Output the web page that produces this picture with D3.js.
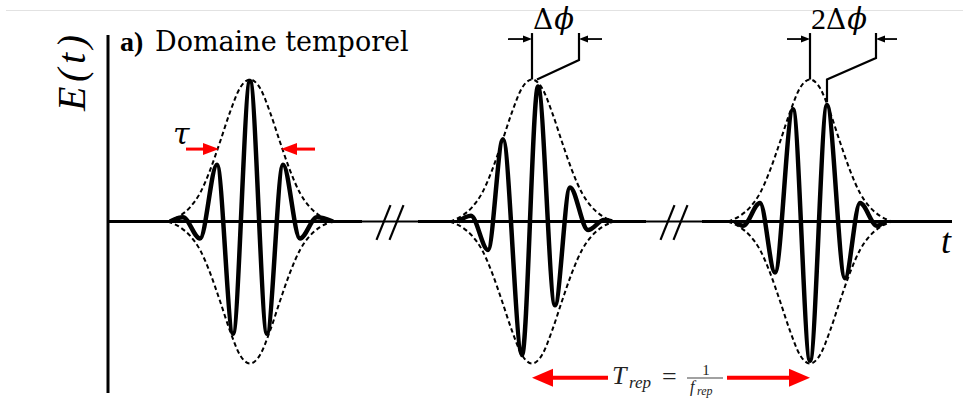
<!DOCTYPE html>
<html>
<head>
<meta charset="utf-8">
<script src="https://cdn.jsdelivr.net/npm/d3@7"></script>
<style>
  body { margin: 0; background: #fff; }
  svg { display: block; }
</style>
</head>
<body>
<svg id="chart" width="963" height="401"></svg>
<script>
// pulse centres along the time axis (arbitrary units)
const pulseCenters = [142, 424, 702];

// dashed envelope, same shape for every pulse (offset from centre, field)
const envOffsets = [-82, -70, -60, -50, -40, -30, -20, -10, 0, 10, 20, 30, 40, 50, 60, 70, 82];
const envValues  = [0, 0.04, 0.10, 0.20, 0.36, 0.56, 0.77, 0.94, 1, 0.94, 0.77, 0.56, 0.36, 0.20, 0.10, 0.04, 0];

// turning points of the carrier in each pulse
const carrierOffsets = [
  [-80, -67, -50, -33, -17, 0, 17, 33, 50, 67, 83],
  [-74, -61, -44, -29, -10, 6, 23, 38, 56, 72, 80],
  [-75, -67, -50, -35, -17, 0, 17, 35, 50, 67, 75]
];
const carrierValues = [
  [0, 0.03, -0.12, 0.40, -0.79, 0.99, -0.79, 0.40, -0.12, 0.03, 0],
  [0, 0.04, -0.20, 0.58, -0.94, 0.95, -0.59, 0.24, -0.06, 0.01, 0],
  [0, -0.03, 0.13, -0.36, 0.79, -0.98, 0.82, -0.40, 0.13, -0.03, 0]
];

// axis breaks "//"
const breakCenters = [282, 566];
const tMax = 844;

var svg = d3.select("#chart");

var x = d3.scaleLinear().domain([0, tMax]).range([108, 952]);
var y = d3.scaleLinear().domain([-1, 1]).range([363.5, 79.5]);

var line = d3.line().x(d => x(d[0])).y(d => y(d[1]));
var smooth = d3.line().x(d => x(d[0])).y(d => y(d[1])).curve(d3.curveMonotoneX);

// thin grey rule at the very top
svg.append("line")
  .attr("x1", 6).attr("x2", 963).attr("y1", 10.5).attr("y2", 10.5)
  .attr("stroke", "#e2e2e2").attr("stroke-width", 1);

// vertical axis
svg.append("line")
  .attr("x1", x(0)).attr("x2", x(0))
  .attr("y1", 35).attr("y2", 393)
  .attr("stroke", "#000").attr("stroke-width", 3);

// horizontal axis: thick pieces, thin through the breaks
var cuts = [0];
breakCenters.forEach(c => { cuts.push(c - 28); cuts.push(c + 28); });
cuts.push(tMax);
for (var i = 0; i < cuts.length; i += 2) {
  svg.append("path").attr("d", line([[cuts[i], 0], [cuts[i + 1], 0]]))
    .attr("stroke", "#000").attr("stroke-width", 3).attr("fill", "none");
}
breakCenters.forEach(c => {
  svg.append("path").attr("d", line([[c - 28, 0], [c + 28, 0]]))
    .attr("stroke", "#000").attr("stroke-width", 1.8).attr("fill", "none");
  [-6.5, 6.5].forEach(o => {
    svg.append("path").attr("d", line([[c + o - 7, -0.13], [c + o + 7, 0.115]]))
      .attr("stroke", "#000").attr("stroke-width", 2.2).attr("fill", "none");
  });
});

// envelopes
pulseCenters.forEach(pc => {
  [1, -1].forEach(s => {
    var pts = envOffsets.map((o, k) => [pc + o, s * envValues[k]]);
    svg.append("path").attr("d", smooth(pts))
      .attr("fill", "none").attr("stroke", "#000")
      .attr("stroke-width", 2).attr("stroke-dasharray", "4.5,3");
  });
});

// carriers
pulseCenters.forEach((pc, p) => {
  var pts = carrierOffsets[p].map((o, k) => [pc + o, carrierValues[p][k]]);
  svg.append("path").attr("d", smooth(pts))
    .attr("fill", "none").attr("stroke", "#000")
    .attr("stroke-width", 4.5).attr("stroke-linejoin", "round");
});

function head(tx, ty, dir, len, half) {
  return "M" + tx + "," + ty + "L" + (tx - dir * len) + "," + (ty - half) +
         "L" + (tx - dir * len) + "," + (ty + half) + "Z";
}
function arrow(t0, t1, v, color, w, len, half) {
  var x0 = x(t0), x1 = x(t1), yy = y(v), dir = x1 > x0 ? 1 : -1;
  svg.append("line").attr("x1", x0).attr("x2", x1 - dir * len * 0.6)
    .attr("y1", yy).attr("y2", yy).attr("stroke", color).attr("stroke-width", w);
  svg.append("path").attr("d", head(x1, yy, dir, len, half)).attr("fill", color);
}

// tau: width of the envelope
var serif = "'Liberation Serif', 'DejaVu Serif', serif";
arrow(pulseCenters[0] - 64, pulseCenters[0] - 31, 0.51, "#f00", 3, 16, 6);
arrow(pulseCenters[0] + 65, pulseCenters[0] + 31, 0.51, "#f00", 3, 16, 6);
svg.append("text").attr("x", x(pulseCenters[0] - 77)).attr("y", 144)
  .attr("font-family", "'DejaVu Serif', serif").attr("font-style", "italic").attr("font-size", 30)
  .text("τ");

// phase slip markers
var phaseMarks = [
  { p: 1, label: ["", "Δ", "ϕ"], right: [[5, 1.0], [47, 1.137], [47, 1.327]], l: -24, r: 70, rEnd: 47 },
  { p: 2, label: ["2", "Δ", "ϕ"], right: [[17, 0.84], [17, 1.0], [66, 1.151], [66, 1.327]], l: -23, r: 87, rEnd: 66 }
];
phaseMarks.forEach(m => {
  var pc = pulseCenters[m.p];
  svg.append("path").attr("d", line([[pc, 1.0], [pc, 1.327]]))
    .attr("stroke", "#000").attr("stroke-width", 2.2).attr("fill", "none");
  svg.append("path").attr("d", line(m.right.map(d => [pc + d[0], d[1]])))
    .attr("stroke", "#000").attr("stroke-width", 2.2).attr("fill", "none");
  arrow(pc + m.l, pc, 1.285, "#000", 1.8, 9, 3.5);
  arrow(pc + m.r, pc + m.rEnd, 1.285, "#000", 1.8, 9, 3.5);
  var t = svg.append("text").attr("x", x(pc) + 1).attr("y", 29)
    .attr("font-family", serif).attr("font-size", 30);
  t.append("tspan").text(m.label[0]);
  t.append("tspan").attr("font-family", "'DejaVu Serif', serif").attr("font-size", 28).text(m.label[1]);
  t.append("tspan").attr("font-family", "'DejaVu Serif', serif").attr("font-style", "italic")
    .attr("font-size", 29).attr("dx", 1).text(m.label[2]);
});

// repetition period
var yRep = -1.10;
arrow(pulseCenters[1] + 76, pulseCenters[1], yRep, "#f00", 4, 21, 9);
arrow(pulseCenters[2] - 83, pulseCenters[2], yRep, "#f00", 4, 21, 9);
var tr = svg.append("g").attr("fill", "#222").attr("font-family", serif);
var xr = x(pulseCenters[1] + 80);
tr.append("text").attr("x", xr).attr("y", 384).attr("font-style", "italic").attr("font-size", 26).text("T");
tr.append("text").attr("x", xr + 17).attr("y", 388).attr("font-style", "italic").attr("font-size", 17).text("rep");
tr.append("text").attr("x", xr + 50).attr("y", 385).attr("font-size", 26).text("=");
tr.append("text").attr("x", xr + 94).attr("y", 375).attr("font-size", 15).attr("text-anchor", "middle").text("1");
tr.append("line").attr("x1", xr + 75).attr("x2", xr + 111).attr("y1", 378).attr("y2", 378)
  .attr("stroke", "#444").attr("stroke-width", 1.2);
tr.append("text").attr("x", xr + 78).attr("y", 392).attr("font-style", "italic").attr("font-size", 16).text("f");
tr.append("text").attr("x", xr + 85).attr("y", 395).attr("font-style", "italic").attr("font-size", 12).text("rep");

// axis labels and title
svg.append("text").attr("transform", "translate(85,73) rotate(-90)")
  .attr("text-anchor", "middle").attr("font-family", serif)
  .attr("font-style", "italic").attr("font-size", 40)
  .attr("textLength", 76).attr("lengthAdjust", "spacing")
  .text("E(t)");
svg.append("text").attr("x", 941).attr("y", 253)
  .attr("font-family", serif).attr("font-style", "italic").attr("font-size", 36)
  .text("t");
svg.append("text").attr("x", 120).attr("y", 51)
  .attr("font-family", serif).attr("font-weight", "bold").attr("font-size", 28)
  .text("a)");
svg.append("text").attr("x", 155).attr("y", 51)
  .attr("font-family", "'DejaVu Serif', serif").attr("font-size", 27)
  .text("Domaine temporel");
</script>
</body>
</html>
